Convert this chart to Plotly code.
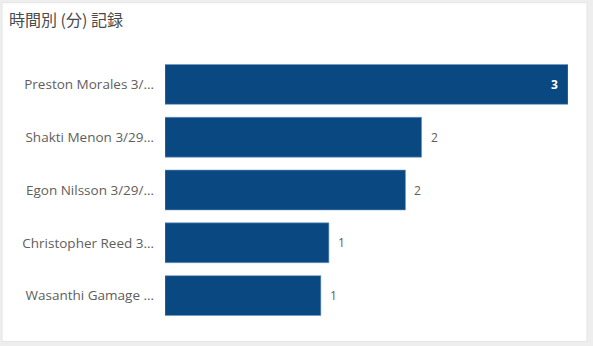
import plotly.graph_objects as go

# Records by time (minutes)
names = [
    "Preston Morales 3/…",
    "Shakti Menon 3/29…",
    "Egon Nilsson 3/29/…",
    "Christopher Reed 3…",
    "Wasanthi Gamage …",
]
minutes = [3.0, 1.91, 1.79, 1.22, 1.16]

W, H = 593, 346
L, R, T, B = 165, 25, 57.5, 23.5
pw, ph = W - L - R, H - T - B

def px_x(px):
    return (px - L) / pw

def px_y(py):
    return (H - B - py) / ph

fig = go.Figure(
    go.Bar(
        x=minutes,
        y=names,
        orientation="h",
        marker=dict(color="#0A4881", line=dict(color="#6f97bf", width=0.6)),
        hoverinfo="skip",
    )
)

# value labels: inside the longest bar, outside the others
annotations = []
vmax = max(minutes)
for name, v in zip(names, minutes):
    inside = v >= 0.8 * vmax
    annotations.append(
        dict(
            x=v,
            y=name,
            xref="x",
            yref="y",
            text=f"<b>{v:.0f}</b>" if inside else f"{v:.0f}",
            showarrow=False,
            xanchor="right" if inside else "left",
            xshift=-8 if inside else 7,
            font=dict(
                family="Open Sans",
                size=12,
                color="white" if inside else "#605e5c",
            ),
        )
    )

annotations.append(
    dict(
        text="時間別 (分) 記録",
        xref="paper",
        yref="paper",
        x=px_x(7),
        y=px_y(18),
        xanchor="left",
        yanchor="middle",
        showarrow=False,
        font=dict(family="Noto Sans CJK JP", size=16, color="#4a4a4a"),
    )
)

fig.update_layout(
    width=W,
    height=H,
    margin=dict(l=L, r=R, t=T, b=B, pad=0),
    paper_bgcolor="#eeeeee",
    plot_bgcolor="rgba(0,0,0,0)",
    bargap=0.245,
    showlegend=False,
    xaxis=dict(range=[0, 3], visible=False, fixedrange=True),
    yaxis=dict(
        autorange="reversed",
        showgrid=False,
        zeroline=False,
        showline=False,
        ticks="",
        ticklabelstandoff=10,
        tickfont=dict(family="Open Sans", size=13.5, color="#605e5c"),
        fixedrange=True,
    ),
    shapes=[
        dict(
            type="rect",
            xref="paper",
            yref="paper",
            x0=px_x(2),
            x1=px_x(587),
            y0=px_y(342),
            y1=px_y(2),
            fillcolor="white",
            line=dict(color="#e4e4e4", width=1),
            layer="below",
        )
    ],
    annotations=annotations,
)

fig.write_html("out.html", config=dict(displayModeBar=False))
